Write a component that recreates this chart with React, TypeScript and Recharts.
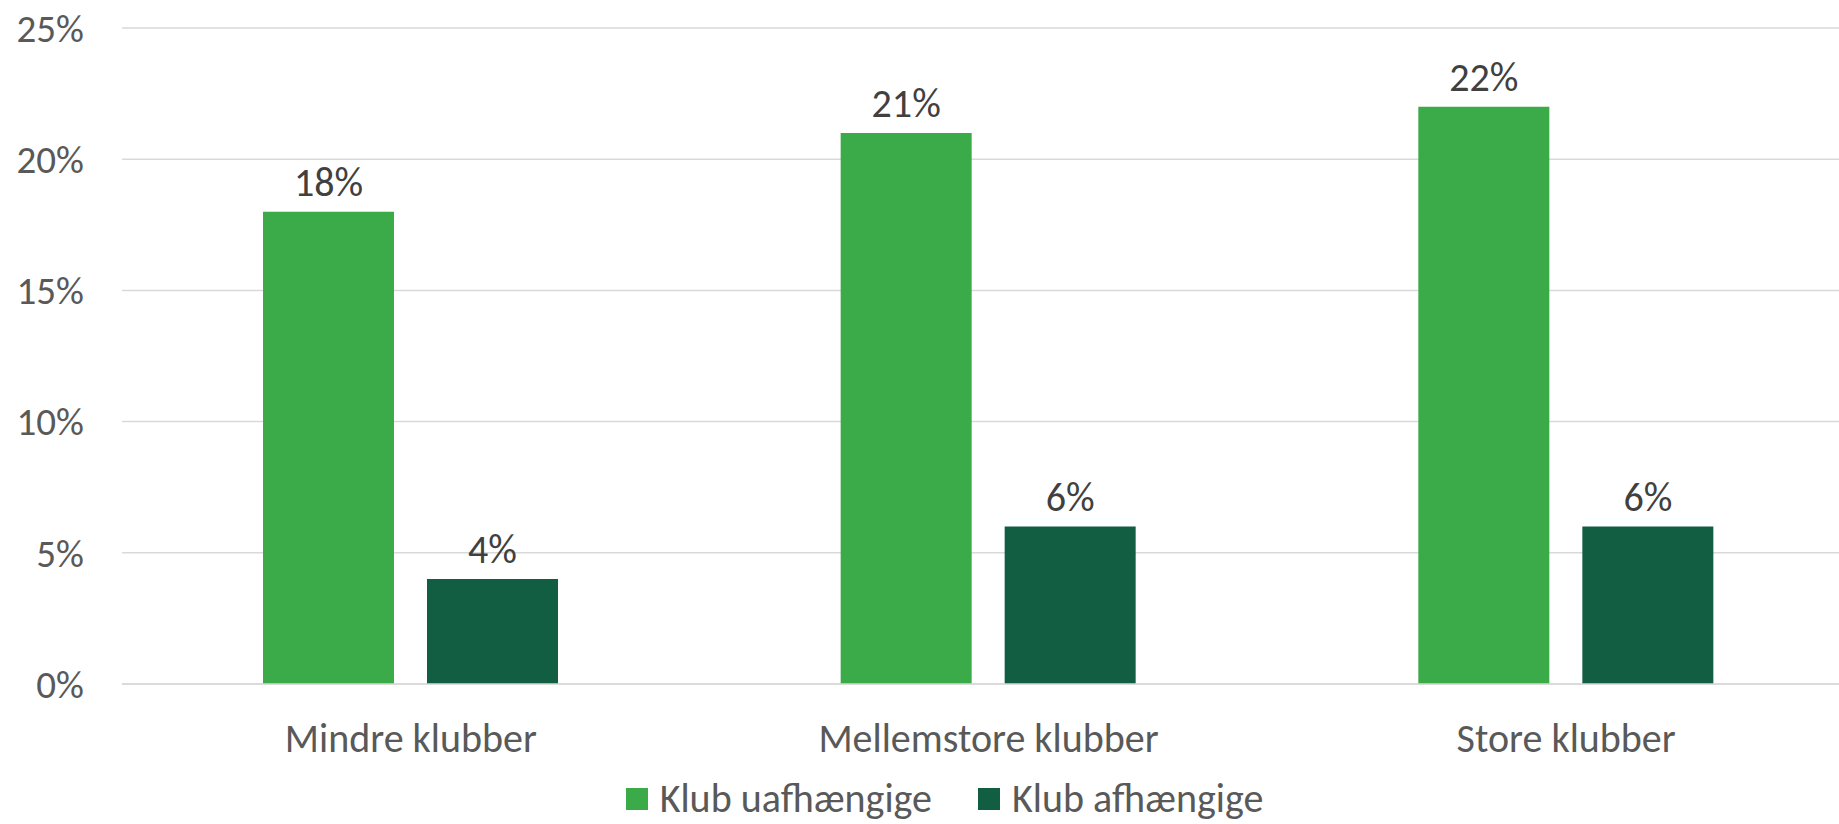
import { Bar, BarChart, CartesianGrid, LabelList, XAxis, YAxis } from "recharts";

const categories = ["Mindre klubber", "Mellemstore klubber", "Store klubber"];
const uafhaengige = [18, 21, 22];
const afhaengige = [4, 6, 6];
const yTicks = [0, 5, 10, 15, 20, 25];

const SERIES = [
  { key: "uaf", name: "Klub uafhængige", color: "#3BAA48", values: uafhaengige },
  { key: "af", name: "Klub afhængige", color: "#125E43", values: afhaengige },
];

const data = categories.map((name, i) => ({
  name,
  uaf: uafhaengige[i],
  af: afhaengige[i],
}));

const FONT = "Carlito, Lato, 'Open Sans', sans-serif";

function LegendBox() {
  return (
    <div
      style={{
        position: "absolute",
        top: 774,
        left: 0,
        width: 1889,
        height: 50,
        display: "flex",
        justifyContent: "center",
        alignItems: "center",
        gap: 46,
        fontFamily: FONT,
        fontSize: 40,
        lineHeight: "46px",
        color: "#595959",
      }}
    >
      {SERIES.map((s) => (
        <div key={s.key} style={{ display: "flex", alignItems: "center", gap: 12 }}>
          <span style={{ width: 22, height: 22, background: s.color, display: "inline-block" }} />
          {s.name}
        </div>
      ))}
    </div>
  );
}

export default function App() {
  return (
    <div style={{ position: "fixed", left: 0, top: 0, width: 1839, height: 824, overflow: "hidden", background: "#fff" }}>
      <BarChart
        width={1870}
        height={824}
        data={data}
        margin={{ top: 28, right: 15, left: 0, bottom: 70 }}
        barSize={131}
        barGap={33}
        style={{ fontFamily: FONT }}
      >
        <CartesianGrid vertical={false} stroke="#d9d9d9" strokeWidth={1.5} />
        <XAxis
          dataKey="name"
          height={70}
          tickLine={false}
          axisLine={{ stroke: "#d9d9d9", strokeWidth: 1.5 }}
          tickSize={0}
          tickMargin={40}
          tick={{ fill: "#595959", fontSize: 40 }}
        />
        <YAxis
          domain={[0, 25]}
          ticks={yTicks}
          width={122}
          tickLine={false}
          axisLine={false}
          tickSize={0}
          tickMargin={38}
          tickFormatter={(v: number) => `${v}%`}
          tick={{ fill: "#595959", fontSize: 39 }}
        />
        {SERIES.map((s) => (
          <Bar key={s.key} dataKey={s.key} name={s.name} fill={s.color} isAnimationActive={false}>
            <LabelList
              dataKey={s.key}
              position="top"
              offset={16}
              formatter={(v: number) => `${v}%`}
              style={{ fill: "#404040", fontSize: 40 }}
            />
          </Bar>
        ))}
      </BarChart>
      <LegendBox />
    </div>
  );
}
